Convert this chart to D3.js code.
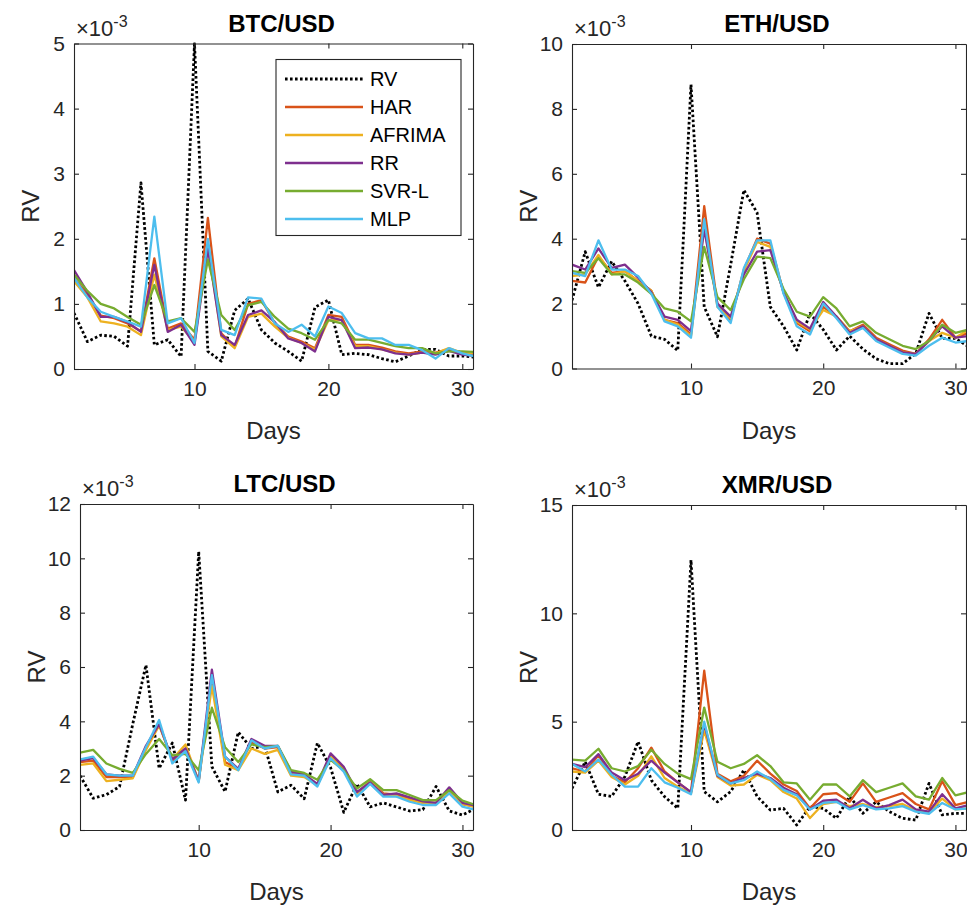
<!DOCTYPE html>
<html>
<head>
<meta charset="utf-8">
<script src="https://cdn.jsdelivr.net/npm/d3@7"></script>
<style>
	body { margin: 0; background: #fff; }
	svg { display: block; font-family: "Liberation Sans", Arial, Helvetica, sans-serif; }
</style>
</head>
<body>
<svg id="chart" width="967" height="905"></svg>
<script>
"use strict";

var days = d3.range(1, 32);
var seriesNames = ['RV', 'HAR', 'AFRIMA', 'RR', 'SVR-L', 'MLP'];
var seriesColors = ['#000000', '#D95319', '#EDB120', '#7E2F8E', '#77AC30', '#4DBEEE'];
var xTicks = [10, 20, 30];

// all values are x 1e-3
var btcRV     = [0.86,0.42,0.52,0.50,0.35,2.86,0.37,0.45,0.19,5.00,0.27,0.12,0.90,1.08,0.60,0.40,0.27,0.12,0.95,1.06,0.22,0.24,0.22,0.16,0.11,0.20,0.30,0.30,0.20,0.20,0.18];
var btcHAR    = [1.40,1.15,0.82,0.78,0.70,0.58,1.70,0.62,0.70,0.45,2.32,0.55,0.34,1.00,1.06,0.70,0.50,0.42,0.32,0.83,0.80,0.37,0.37,0.33,0.27,0.24,0.27,0.25,0.30,0.25,0.22];
var btcAFRIMA = [1.35,1.10,0.73,0.70,0.65,0.52,1.45,0.60,0.65,0.42,1.90,0.50,0.32,0.80,0.85,0.65,0.48,0.40,0.30,0.75,0.75,0.35,0.35,0.30,0.25,0.22,0.25,0.24,0.32,0.25,0.22];
var btcRR     = [1.52,1.18,0.80,0.80,0.72,0.57,1.60,0.57,0.68,0.37,1.85,0.52,0.37,0.83,0.90,0.72,0.47,0.40,0.27,0.80,0.75,0.32,0.33,0.30,0.24,0.22,0.25,0.22,0.28,0.22,0.20];
var btcSVR    = [1.45,1.20,1.00,0.93,0.80,0.68,1.29,0.73,0.78,0.57,1.68,0.83,0.60,0.98,1.03,0.80,0.62,0.55,0.45,0.75,0.70,0.45,0.45,0.40,0.35,0.32,0.32,0.24,0.27,0.27,0.26];
var btcMLP    = [1.40,1.10,0.88,0.80,0.73,0.65,2.34,0.70,0.78,0.40,2.00,0.60,0.52,1.10,1.08,0.70,0.57,0.68,0.50,0.96,0.86,0.55,0.47,0.47,0.37,0.37,0.29,0.16,0.32,0.24,0.19];

var ethRV     = [2.1,3.6,2.5,3.3,2.7,2.0,1.0,0.9,0.55,8.75,1.9,0.98,3.2,5.5,4.8,1.9,1.3,0.57,1.7,1.2,0.57,1.0,0.6,0.3,0.15,0.15,0.46,1.7,0.93,0.93,0.67];
var ethHAR    = [2.7,2.65,3.45,2.95,3.0,2.7,2.4,1.5,1.4,1.05,5.0,1.95,1.5,3.05,4.0,3.85,2.35,1.4,1.15,1.9,1.6,1.15,1.35,0.95,0.75,0.55,0.45,0.9,1.5,0.95,1.1];
var ethAFRIMA = [2.85,2.9,3.5,2.9,3.0,2.7,2.4,1.5,1.35,1.0,4.4,1.9,1.55,3.0,3.9,3.75,2.35,1.45,1.2,1.8,1.6,1.15,1.3,0.9,0.7,0.5,0.45,0.85,1.1,0.95,1.2];
var ethRR     = [3.2,3.05,3.7,3.1,3.2,2.8,2.35,1.6,1.5,1.15,4.3,2.0,1.6,2.9,3.6,3.65,2.35,1.5,1.23,2.05,1.6,1.1,1.3,0.9,0.7,0.5,0.45,0.85,1.3,0.95,1.0];
var ethSVR    = [3.0,2.95,3.4,2.9,2.9,2.65,2.3,1.85,1.75,1.45,3.75,2.2,1.8,2.75,3.45,3.4,2.45,1.75,1.6,2.2,1.85,1.3,1.45,1.1,0.9,0.7,0.6,0.85,1.35,1.1,1.2];
var ethMLP    = [2.95,2.85,3.95,3.05,3.05,2.85,2.3,1.45,1.3,0.95,4.6,1.9,1.4,3.1,3.95,3.95,2.3,1.3,1.05,2.0,1.55,1.05,1.25,0.85,0.65,0.45,0.4,0.7,0.95,0.8,0.85];

var ltcRV     = [2.0,1.17,1.3,1.6,3.9,6.07,2.27,3.2,1.1,10.25,2.33,1.41,3.6,3.0,3.1,1.4,1.65,1.15,3.2,2.3,0.65,1.7,0.85,1.0,0.85,0.7,0.75,1.6,0.7,0.55,0.8];
var ltcHAR    = [2.5,2.55,1.95,1.95,1.95,3.0,3.9,2.55,3.0,1.8,5.6,2.5,2.25,3.25,3.0,3.05,2.1,2.0,1.65,2.75,2.25,1.35,1.8,1.35,1.3,1.15,1.0,1.0,1.45,0.95,0.85];
var ltcAFRIMA = [2.4,2.45,1.8,1.85,1.9,2.95,3.85,2.6,3.15,1.8,5.3,2.4,2.2,3.0,2.8,2.95,2.0,1.95,1.65,2.7,2.2,1.35,1.8,1.3,1.25,1.1,1.0,1.0,1.4,0.95,0.85];
var ltcRR     = [2.55,2.65,2.05,2.0,2.0,3.1,3.9,2.6,3.0,1.8,5.9,2.7,2.25,3.35,3.1,3.1,2.15,2.05,1.7,2.82,2.33,1.4,1.75,1.29,1.35,1.2,1.05,1.0,1.57,1.0,0.9];
var ltcSVR    = [2.85,2.95,2.45,2.25,2.1,2.8,3.35,2.75,2.8,2.2,4.5,3.05,2.5,3.15,3.05,3.1,2.2,2.1,1.85,2.58,2.2,1.53,1.87,1.47,1.47,1.29,1.1,1.1,1.47,1.08,0.92];
var ltcMLP    = [2.6,2.7,2.05,2.0,2.0,3.05,4.05,2.45,2.9,1.75,5.7,2.7,2.2,3.3,3.0,3.1,2.05,2.0,1.6,2.64,2.15,1.23,1.7,1.23,1.23,1.04,0.92,0.92,1.35,0.86,0.74];

var xmrRV     = [1.92,3.15,1.65,1.55,2.46,4.08,2.3,1.54,1.0,12.46,1.77,1.3,1.77,2.77,1.55,0.92,1.0,0.23,1.08,1.0,0.54,1.54,0.77,1.3,0.85,0.54,0.46,2.15,0.7,0.77,0.77];
var xmrHAR    = [2.85,2.7,3.45,2.5,2.2,2.85,3.8,2.7,2.2,1.75,7.35,2.6,2.25,2.5,3.2,2.6,2.1,1.8,1.0,1.65,1.7,1.3,2.15,1.3,1.5,1.7,1.2,0.95,2.25,1.15,1.3];
var xmrAFRIMA = [2.7,2.65,3.2,2.45,2.1,2.5,3.4,2.4,2.0,1.7,4.6,2.45,2.05,2.1,2.55,2.3,1.75,1.45,0.55,1.2,1.3,1.1,1.2,1.05,1.1,1.2,0.9,0.8,1.45,0.95,1.0];
var xmrRR     = [3.05,2.9,3.5,2.65,2.3,2.6,3.2,2.65,2.2,1.75,4.9,2.5,2.15,2.4,2.6,2.4,1.95,1.65,0.95,1.35,1.4,1.0,1.4,1.0,1.15,1.4,0.95,0.85,1.65,1.0,1.15];
var xmrSVR    = [3.25,3.2,3.75,2.85,2.7,2.95,3.7,3.05,2.6,2.35,5.65,3.15,2.85,3.05,3.45,2.95,2.2,2.15,1.4,2.1,2.1,1.55,2.3,1.75,1.95,2.15,1.55,1.4,2.4,1.6,1.75];
var xmrMLP    = [3.05,2.7,3.25,2.55,2.0,2.0,2.85,2.2,1.95,1.65,5.0,2.55,2.15,2.3,2.7,2.35,1.85,1.6,0.95,1.25,1.3,0.95,1.15,0.95,1.0,1.1,0.85,0.75,1.25,0.95,1.0];

var btcTicks = [0, 1, 2, 3, 4, 5];
var ethTicks = [0, 2, 4, 6, 8, 10];
var ltcTicks = [0, 2, 4, 6, 8, 10, 12];
var xmrTicks = [0, 5, 10, 15];

// subplot boxes in pixels
var panels = [
	{title: 'BTC/USD', series: [btcRV, btcHAR, btcAFRIMA, btcRR, btcSVR, btcMLP], yTicks: btcTicks,
		box: {left: 74, top: 43.5, right: 473, bottom: 369}, legend: true},
	{title: 'ETH/USD', series: [ethRV, ethHAR, ethAFRIMA, ethRR, ethSVR, ethMLP], yTicks: ethTicks,
		box: {left: 572, top: 44, right: 966, bottom: 368.5}},
	{title: 'LTC/USD', series: [ltcRV, ltcHAR, ltcAFRIMA, ltcRR, ltcSVR, ltcMLP], yTicks: ltcTicks,
		box: {left: 80, top: 504, right: 473, bottom: 830}},
	{title: 'XMR/USD', series: [xmrRV, xmrHAR, xmrAFRIMA, xmrRR, xmrSVR, xmrMLP], yTicks: xmrTicks,
		box: {left: 572, top: 505, right: 966, bottom: 830}}
];

var axisColor = '#262626';
var rvDash = '2.6,2.4';
var svg = d3.select('#chart');

panels.forEach(function(p, i) {

	var b = p.box;
	var x = d3.scaleLinear().domain([1, 30.8]).range([b.left, b.right]);
	var y = d3.scaleLinear().domain([0, d3.max(p.yTicks)]).range([b.bottom, b.top]);
	var g = svg.append('g').attr('class', 'panel');
	var fmt = d3.format('d');

	//clip lines to the axes box
	svg.append('clipPath').attr('id', 'clip' + i)
		.append('rect')
		.attr('x', b.left).attr('y', b.top - 1)
		.attr('width', b.right - b.left).attr('height', b.bottom - b.top + 1);

	var line = d3.line()
		.x(function(d, j) { return x(days[j]); })
		.y(function(d) { return y(d); });

	var lines = g.append('g').attr('clip-path', 'url(#clip' + i + ')');
	p.series.forEach(function(s, k) {
		lines.append('path')
			.datum(s)
			.attr('d', line)
			.attr('fill', 'none')
			.attr('stroke', seriesColors[k])
			.attr('stroke-width', k === 0 ? 2.8 : 2.3)
			.attr('stroke-dasharray', k === 0 ? rvDash : null)
			.attr('stroke-linejoin', 'round');
	});

	//matlab style box with inward ticks
	var bottom = g.append('g').attr('transform', 'translate(0,' + b.bottom + ')')
		.call(d3.axisBottom(x).tickValues(xTicks).tickFormat(fmt).tickSizeInner(-5).tickSizeOuter(0).tickPadding(12));
	var top = g.append('g').attr('transform', 'translate(0,' + b.top + ')')
		.call(d3.axisTop(x).tickValues(xTicks).tickSizeInner(-5).tickSizeOuter(0).tickFormat(''));
	var left = g.append('g').attr('transform', 'translate(' + b.left + ',0)')
		.call(d3.axisLeft(y).tickValues(p.yTicks).tickFormat(fmt).tickSizeInner(-5).tickSizeOuter(0).tickPadding(9));
	var right = g.append('g').attr('transform', 'translate(' + b.right + ',0)')
		.call(d3.axisRight(y).tickValues(p.yTicks).tickSizeInner(-5).tickSizeOuter(0).tickFormat(''));

	[bottom, top, left, right].forEach(function(a) {
		a.selectAll('path, line').attr('stroke', axisColor).attr('stroke-width', 1.1);
		a.selectAll('text').attr('fill', axisColor).style('font-size', '21px').style('font-family', null);
	});

	var cx = (b.left + b.right) / 2;

	g.append('text')
		.attr('x', cx + 8).attr('y', b.top - 12)
		.attr('text-anchor', 'middle')
		.style('font-size', '24px').style('font-weight', 'bold')
		.attr('fill', '#000')
		.text(p.title);

	g.append('text')
		.attr('x', cx).attr('y', b.bottom + 70)
		.attr('text-anchor', 'middle')
		.style('font-size', '24px')
		.attr('fill', axisColor)
		.text('Days');

	g.append('text')
		.attr('transform', 'translate(' + (b.left - 35) + ',' + ((b.top + b.bottom) / 2) + ') rotate(-90)')
		.attr('text-anchor', 'middle')
		.style('font-size', '24px')
		.attr('fill', axisColor)
		.text('RV');

	//exponent label
	var ex = g.append('text')
		.attr('x', b.left + 2).attr('y', b.top - 8)
		.style('font-size', '22px')
		.attr('fill', axisColor);
	ex.append('tspan').text('\u00d710');
	ex.append('tspan').attr('dy', -9).style('font-size', '16px').text('-3');

	if(p.legend) {
		var lg = g.append('g').attr('class', 'legend');
		lg.append('rect')
			.attr('x', 276).attr('y', 59.5)
			.attr('width', 185).attr('height', 176)
			.attr('fill', '#fff')
			.attr('stroke', axisColor).attr('stroke-width', 1.1);
		seriesNames.forEach(function(name, k) {
			var ly = 79 + k * 28;
			lg.append('line')
				.attr('x1', 285).attr('x2', 363)
				.attr('y1', ly).attr('y2', ly)
				.attr('stroke', seriesColors[k])
				.attr('stroke-width', k === 0 ? 2.8 : 2.3)
				.attr('stroke-dasharray', k === 0 ? rvDash : null);
			lg.append('text')
				.attr('x', 370).attr('y', ly)
				.attr('dy', '0.36em')
				.style('font-size', '20px')
				.attr('fill', '#000')
				.text(name);
		});
	}
});
</script>
</body>
</html>
